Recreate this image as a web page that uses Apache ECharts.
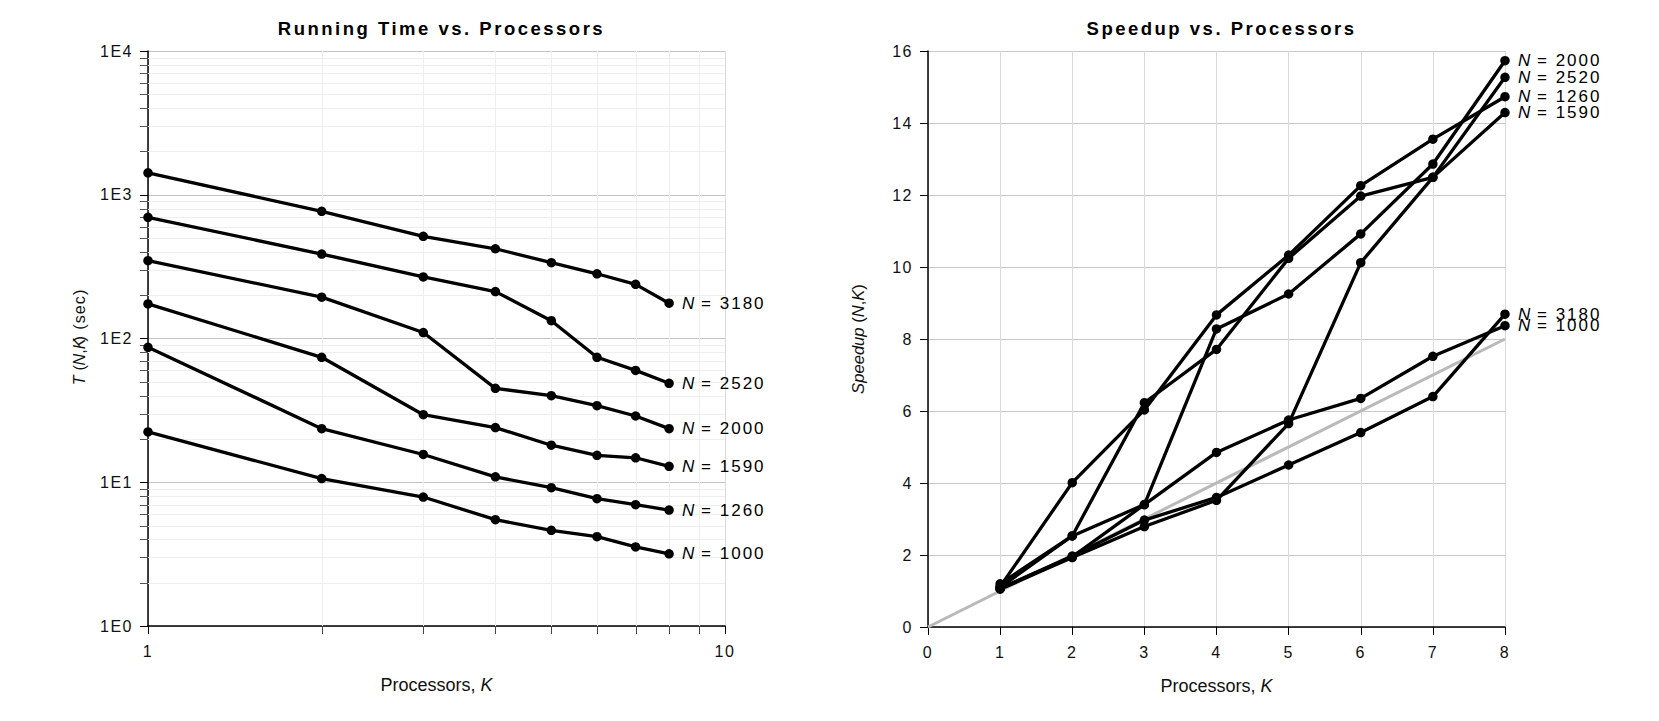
<!DOCTYPE html>
<html>
<head>
<meta charset="utf-8">
<script src="https://cdn.jsdelivr.net/npm/echarts@6/dist/echarts.min.js"></script>
<style>
  html, body { margin: 0; padding: 0; background: #fff; }
  #chart { width: 1659px; height: 721px; }
  /* the original text is set a bit wide */
  #chart text { letter-spacing: 1.5px; }
  #chart text[style*="bold"] { letter-spacing: 2.5px; }
  #chart text[style*="17px"] { letter-spacing: 2px; }
  /* axis names are rich text: keep spacing small, tokens would collide */
  #chart text[style*="18px"] { letter-spacing: 0; }
  #chart text[style*="16.2px"] { letter-spacing: 1px; }
  #chart text[style*="16.6px"] { letter-spacing: 0; }
</style>
</head>
<body>
<div id="chart"></div>
<script>
// processors K
const procs = [1, 2, 3, 4, 5, 6, 7, 8];
const sizes = [3180, 2520, 2000, 1590, 1260, 1000];

// running time T(N,K), sec
const time3180 = [1420, 767, 514, 421, 337, 282, 238, 176];
const time2520 = [697, 387, 268, 212, 133, 74, 60, 48.8];
const time2000 = [348, 194, 110, 45, 40, 34.1, 28.9, 23.6];
const time1590 = [174, 74, 29.5, 24, 18.1, 15.4, 14.8, 12.9];
const time1260 = [86.9, 23.6, 15.6, 10.9, 9.16, 7.69, 6.98, 6.41];
const time1000 = [22.4, 10.6, 7.89, 5.49, 4.63, 4.18, 3.55, 3.18];

// speedup(N,K)
const speed3180 = [1.07, 1.97, 2.97, 3.6, 4.5, 5.4, 6.4, 8.69];
const speed2520 = [1.05, 1.93, 2.79, 3.52, 5.65, 10.12, 12.49, 15.27];
const speed2000 = [1.07, 1.95, 3.4, 8.28, 9.25, 10.92, 12.86, 15.73];
const speed1590 = [1.1, 2.53, 6.23, 7.71, 10.24, 11.97, 12.49, 14.29];
const speed1260 = [1.12, 4.01, 6.03, 8.67, 10.33, 12.26, 13.55, 14.73];
const speed1000 = [1.2, 2.53, 3.4, 4.85, 5.75, 6.35, 7.52, 8.37];

const idealLine = [[0, 0], [8, 8]];

// tick labels / minor ticks of the log chart
const timeTickLabels = ['1E0', '1E1', '1E2', '1E3', '1E4'];
const minorTimeTicks = [2, 3, 4, 5, 6, 7, 8, 9,
                        20, 30, 40, 50, 60, 70, 80, 90,
                        200, 300, 400, 500, 600, 700, 800, 900,
                        2000, 3000, 4000, 5000, 6000, 7000, 8000, 9000];
const minorProcTicks = [2, 3, 4, 5, 6, 7, 8, 9];

const timeBySize = {3180: time3180, 2520: time2520, 2000: time2000, 1590: time1590, 1260: time1260, 1000: time1000};
const speedBySize = {3180: speed3180, 2520: speed2520, 2000: speed2000, 1590: speed1590, 1260: speed1260, 1000: speed1000};

const FONT = '"Liberation Sans", Arial, sans-serif';
const ital = { fontStyle: 'italic', fontFamily: FONT };
const NB = '\u00a0'; // svg drops plain edge spaces in rich tokens

const myChart = echarts.init(document.getElementById('chart'), null, { renderer: 'svg' });

function px(v) { return Math.round(v) + 0.5; }

// minor horizontal grid + ticks on the time axis
function minorTimeItem(params, api) {
  const a = api.coord([1, api.value(1)]);
  const b = api.coord([10, api.value(1)]);
  const y = px(a[1]);
  return {
    type: 'group',
    children: [
      { type: 'line', shape: { x1: a[0], y1: y, x2: b[0], y2: y }, style: { stroke: '#eeeeee', lineWidth: 1 } },
      { type: 'line', shape: { x1: a[0] - 8, y1: y, x2: a[0], y2: y }, style: { stroke: '#555', lineWidth: 1 } }
    ]
  };
}

// minor vertical grid + ticks on the processors (log) axis
function minorProcItem(params, api) {
  const a = api.coord([api.value(0), 1]);
  const b = api.coord([api.value(0), 10000]);
  const x = px(a[0]);
  return {
    type: 'group',
    children: [
      { type: 'line', shape: { x1: x, y1: b[1], x2: x, y2: a[1] }, style: { stroke: '#eeeeee', lineWidth: 1 } },
      { type: 'line', shape: { x1: x, y1: a[1], x2: x, y2: a[1] + 8 }, style: { stroke: '#444', lineWidth: 1 } }
    ]
  };
}

const tickLabel = { color: '#111', fontSize: 16, fontFamily: FONT };

const series = [
  {
    type: 'custom', xAxisIndex: 0, yAxisIndex: 0, z: 1, silent: true,
    renderItem: minorTimeItem, encode: { x: 0, y: 1 },
    data: minorTimeTicks.map(v => [1, v])
  },
  {
    type: 'custom', xAxisIndex: 0, yAxisIndex: 0, z: 1, silent: true,
    renderItem: minorProcItem, encode: { x: 0, y: 1 },
    data: minorProcTicks.map(k => [k, 1])
  },
  {
    type: 'line', xAxisIndex: 1, yAxisIndex: 1, z: 1, silent: true,
    data: idealLine, symbol: 'none',
    lineStyle: { color: '#b9b9b9', width: 3 }
  }
];

sizes.forEach(function (n) {
  const endLabel = {
    show: true,
    distance: 13,
    formatter: '{i|N}' + NB + '=' + NB + n,
    color: '#000',
    fontSize: 17,
    fontFamily: FONT,
    rich: { i: Object.assign({ fontSize: 17, color: '#000' }, ital) }
  };
  const common = {
    type: 'line',
    name: 'N = ' + n,
    symbol: 'circle',
    symbolSize: 9.5,
    z: 3,
    itemStyle: { color: '#000' },
    lineStyle: { color: '#000', width: 3.3 },
    endLabel: endLabel
  };
  series.push(Object.assign({}, common, {
    xAxisIndex: 0, yAxisIndex: 0,
    data: procs.map((k, i) => [k, timeBySize[n][i]])
  }));
  series.push(Object.assign({}, common, {
    xAxisIndex: 1, yAxisIndex: 1,
    data: procs.map((k, i) => [k, speedBySize[n][i]])
  }));
});

function nameStyle(size) {
  return { color: '#111', fontSize: size, fontFamily: FONT, rich: { i: Object.assign({ fontSize: size, color: '#111' }, ital) } };
}
const xName = 'Processors,' + NB + '{i|K}';

const option = {
  backgroundColor: '#fff',
  animation: false,
  title: [
    {
      text: 'Running Time vs. Processors',
      left: 436.5, top: 14, textAlign: 'center',
      textStyle: { fontSize: 18.5, fontWeight: 'bold', color: '#000', fontFamily: FONT }
    },
    {
      text: 'Speedup vs. Processors',
      left: 1216.5, top: 14, textAlign: 'center',
      textStyle: { fontSize: 18.5, fontWeight: 'bold', color: '#000', fontFamily: FONT }
    }
  ],
  grid: [
    { left: 148, top: 51, width: 577, height: 575 },
    { left: 928, top: 51, width: 577, height: 576 }
  ],
  xAxis: [
    {
      gridIndex: 0, type: 'log', logBase: 10, min: 1, max: 10,
      name: xName, nameLocation: 'middle', nameGap: 50, nameTextStyle: nameStyle(18),
      axisLine: { lineStyle: { color: '#000', width: 1.5 } },
      axisTick: { show: true, length: 8, lineStyle: { color: '#000' } },
      axisLabel: Object.assign({ margin: 17 }, tickLabel),
      splitLine: { show: true, lineStyle: { color: '#dddddd' } }
    },
    {
      gridIndex: 1, type: 'value', min: 0, max: 8, interval: 1,
      name: xName, nameLocation: 'middle', nameGap: 50, nameTextStyle: nameStyle(18),
      axisLine: { lineStyle: { color: '#000', width: 1.5 } },
      axisTick: { show: true, length: 8, lineStyle: { color: '#000' } },
      axisLabel: Object.assign({ margin: 17 }, tickLabel),
      splitLine: { show: true, lineStyle: { color: '#d9d9d9' } }
    }
  ],
  yAxis: [
    {
      gridIndex: 0, type: 'log', logBase: 10, min: 1, max: 10000,
      name: '{i|T}' + NB + '({i|N},{i|K})' + NB + '(sec)', nameLocation: 'middle', nameGap: 61,
      nameTextStyle: nameStyle(16.2),
      axisLine: { lineStyle: { color: '#000', width: 1.5 } },
      axisTick: { show: true, length: 8, lineStyle: { color: '#000' } },
      axisLabel: Object.assign({
        margin: 15,
        formatter: function (v) { return timeTickLabels[Math.round(Math.log10(v))]; }
      }, tickLabel),
      splitLine: { show: true, lineStyle: { color: '#c4c4c4' } }
    },
    {
      gridIndex: 1, type: 'value', min: 0, max: 16, interval: 2,
      name: '{i|Speedup}' + NB + '({i|N},{i|K})', nameLocation: 'middle', nameGap: 61,
      nameTextStyle: nameStyle(16.6),
      axisLine: { lineStyle: { color: '#000', width: 1.5 } },
      axisTick: { show: true, length: 8, lineStyle: { color: '#000' } },
      axisLabel: Object.assign({ margin: 15 }, tickLabel),
      splitLine: { show: true, lineStyle: { color: '#c8c8c8' } }
    }
  ],
  series: series
};

myChart.setOption(option);
window.addEventListener('resize', function () {
  myChart.resize();
});
</script>
</body>
</html>
